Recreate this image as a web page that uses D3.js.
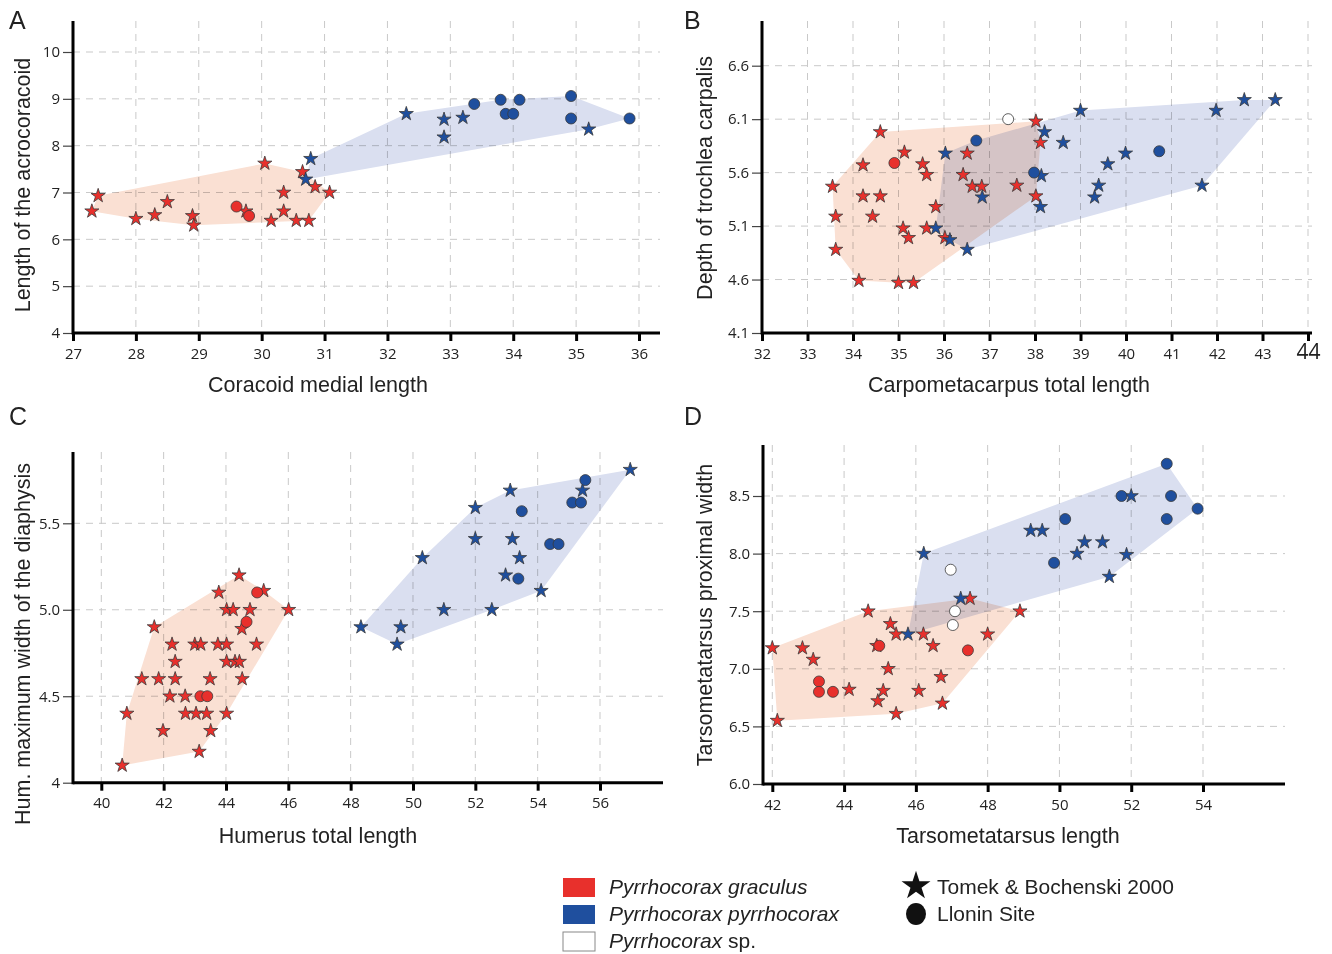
<!DOCTYPE html>
<html>
<head>
<meta charset="utf-8">
<script src="https://cdnjs.cloudflare.com/ajax/libs/d3/7.8.5/d3.min.js"></script>
<style>
  body { margin: 0; background: #fff; }
  svg { font-family: "Liberation Sans", Arial, sans-serif; }
  .tick text { font-family: "Open Sans", "Liberation Sans", sans-serif; fill: #222; }
  .hull { mix-blend-mode: multiply; }
</style>
</head>
<body>
<div id="chart"></div>
<script>
// ---- panel A : coracoid ----
var aXTicks = [27, 28, 29, 30, 31, 32, 33, 34, 35, 36];
var aYTicks = [4, 5, 6, 7, 8, 9, 10];
var aRedStars = [[27.3,6.6],[27.4,6.93],[28.0,6.44],[28.3,6.52],[28.5,6.8],[28.9,6.5],[28.92,6.3],
  [30.05,7.62],[29.75,6.6],[30.15,6.4],[30.35,7.0],[30.35,6.6],[30.55,6.4],[30.65,7.44],
  [30.75,6.4],[30.85,7.12],[31.08,7.0]];
var aRedDots = [[29.6,6.7],[29.8,6.5]];
var aBlueStars = [[30.78,7.72],[30.7,7.28],[32.3,8.68],[32.9,8.56],[32.9,8.18],[33.2,8.6],[35.2,8.35]];
var aBlueDots = [[33.38,8.89],[33.8,8.98],[34.1,8.98],[33.88,8.68],[34.0,8.68],[34.92,9.06],[34.92,8.58],[35.85,8.58]];

// ---- panel B : carpometacarpus ----
var bXTicks = [32, 33, 34, 35, 36, 37, 38, 39, 40, 41, 42, 43, 44];
var bYTicks = [4.1, 4.6, 5.1, 5.6, 6.1, 6.6];
var bRedStars = [[34.6,5.98],[35.13,5.79],[34.22,5.67],[35.53,5.68],[35.62,5.58],[33.55,5.47],[34.22,5.38],
  [34.6,5.38],[35.82,5.28],[33.62,5.19],[34.43,5.19],[35.1,5.08],[35.62,5.08],[35.22,4.99],[36.02,4.99],
  [33.62,4.88],[34.13,4.59],[35.0,4.57],[35.33,4.57],[36.51,5.78],[36.42,5.58],[36.62,5.47],[36.83,5.47],
  [38.02,6.08],[38.12,5.88],[37.6,5.48],[38.02,5.38]];
var bRedDots = [[34.91,5.69]];
var bBlueStars = [[36.03,5.78],[36.84,5.37],[35.82,5.08],[36.13,4.97],[36.51,4.88],[38.21,5.98],[39.0,6.18],
  [38.62,5.88],[38.14,5.57],[38.12,5.28],[39.99,5.78],[39.6,5.68],[39.4,5.48],[39.31,5.37],[41.67,5.48],
  [41.98,6.18],[42.6,6.28],[43.28,6.28]];
var bBlueDots = [[36.71,5.9],[37.98,5.6],[40.73,5.8]];
var bSpDots = [[37.41,6.1]];

// ---- panel C : humerus ----
var cXTicks = [40, 42, 44, 46, 48, 50, 52, 54, 56];
var cYTicks = [4, 4.5, 5.0, 5.5];
var cYLabels = ["4", "4.5", "5.0", "5.5"];
var cRedStars = [[40.67,4.1],[40.82,4.4],[41.7,4.9],[41.3,4.6],[41.84,4.6],[41.98,4.3],[42.2,4.5],[42.27,4.8],
  [42.37,4.7],[42.37,4.6],[42.69,4.5],[42.7,4.4],[43.04,4.4],[43.38,4.4],[43.0,4.8],[43.19,4.8],[43.14,4.18],
  [43.51,4.3],[43.49,4.6],[43.77,5.1],[43.74,4.8],[44.02,4.8],[44.02,5.0],[44.23,5.0],[44.02,4.7],[44.02,4.4],
  [44.29,4.7],[44.43,4.7],[44.42,5.2],[44.52,4.6],[44.51,4.89],[44.77,5.0],[44.98,4.8],[45.21,5.11],[46.01,5.0]];
var cRedDots = [[43.18,4.5],[43.4,4.5],[44.66,4.93],[45.0,5.1]];
var cBlueStars = [[48.33,4.9],[49.61,4.9],[49.49,4.8],[50.3,5.3],[50.99,5.0],[52.0,5.59],[52.0,5.41],[52.53,5.0],
  [53.12,5.69],[53.19,5.41],[53.42,5.3],[52.97,5.2],[54.11,5.11],[55.44,5.69],[56.97,5.81]];
var cBlueDots = [[53.49,5.57],[53.38,5.18],[54.4,5.38],[54.67,5.38],[55.11,5.62],[55.39,5.62],[55.53,5.75]];

// ---- panel D : tarsometatarsus ----
var dXTicks = [42, 44, 46, 48, 50, 52, 54];
var dYTicks = [6.0, 6.5, 7.0, 7.5, 8.0, 8.5];
var dRedStars = [[42.0,7.18],[42.14,6.55],[42.84,7.18],[43.14,7.08],[44.14,6.82],[44.67,7.5],[44.94,6.72],
  [44.91,7.2],[45.09,6.81],[45.23,7.0],[45.29,7.39],[45.45,7.3],[45.45,6.61],[46.08,6.81],[46.21,7.3],
  [46.48,7.2],[46.7,6.93],[46.74,6.7],[47.51,7.61],[48.0,7.3],[48.9,7.5]];
var dRedDots = [[44.98,7.2],[43.3,6.89],[43.3,6.8],[43.69,6.8],[47.45,7.16]];
var dBlueStars = [[46.22,8.0],[45.78,7.3],[47.25,7.61],[49.2,8.2],[49.52,8.2],[50.7,8.1],[50.49,8.0],
  [51.2,8.1],[51.87,7.99],[51.39,7.8],[52.0,8.5]];
var dBlueDots = [[50.16,8.3],[49.85,7.92],[51.73,8.5],[52.99,8.78],[53.11,8.5],[52.99,8.3],[53.85,8.39]];
var dSpDots = [[46.97,7.86],[47.09,7.5],[47.03,7.38]];

var legendSpecies = ["graculus", "pyrrhocorax", "sp."];
var legendSources = ["Tomek & Bochenski 2000", "Llonin Site"];

var RED = "#e8302c", BLUE = "#1f4f9e";

var svg = d3.select("#chart").append("svg")
  .attr("width", 1332)
  .attr("height", 954);

function drawPanel(p) {
  var g = svg.append("g");
  var x = d3.scaleLinear().domain(p.xd).range(p.xr);
  var y = d3.scaleLinear().domain(p.yd).range(p.yr);

  // grid
  g.selectAll("line.vg").data(p.xTicks).enter().append("line")
    .attr("x1", function(d){ return x(d); }).attr("x2", function(d){ return x(d); })
    .attr("y1", p.top).attr("y2", p.yr[0])
    .attr("stroke", "#c9c9c9").attr("stroke-dasharray", "7,6");
  g.selectAll("line.hg").data(p.yTicks.slice(1)).enter().append("line")
    .attr("x1", p.left).attr("x2", p.right)
    .attr("y1", function(d){ return y(d); }).attr("y2", function(d){ return y(d); })
    .attr("stroke", "#c9c9c9").attr("stroke-dasharray", "7,6");

  // hulls
  var hulls = [[p.blue, "#dadff0"], [p.red, "#fae0d3"]];
  hulls.forEach(function(h){
    var hull = d3.polygonHull(h[0]);
    g.append("path").attr("class", "hull")
      .attr("d", "M" + hull.map(function(d){ return x(d[0]) + "," + y(d[1]); }).join("L") + "Z")
      .attr("fill", h[1]);
  });

  // axes
  var xa = g.append("g").attr("transform", "translate(0," + p.yr[0] + ")")
    .call(d3.axisBottom(x).tickValues(p.xTicks).tickSize(8).tickPadding(7));
  var ya = g.append("g").attr("transform", "translate(" + p.left + ",0)")
    .call(d3.axisLeft(y).tickValues(p.yTicks).tickSize(10).tickPadding(3)
      .tickFormat(function(d, i){ return p.yLabels[i]; }));
  [xa, ya].forEach(function(a){
    a.select(".domain").remove();
    a.selectAll(".tick text").attr("font-size", 15);
  });
  xa.selectAll(".tick line").attr("stroke", "#000").attr("stroke-width", 3);
  ya.selectAll(".tick line").attr("stroke", "#444").attr("stroke-width", 1.2);
  if (p.bigLast) xa.selectAll(".tick:last-of-type text").attr("font-size", 21).attr("dy", "0.5em");
  g.append("line").attr("x1", p.left).attr("x2", p.right).attr("y1", p.yr[0]).attr("y2", p.yr[0])
    .attr("stroke", "#000").attr("stroke-width", 3);
  g.append("line").attr("x1", p.left).attr("x2", p.left).attr("y1", p.top).attr("y2", p.yr[0] + 1.5)
    .attr("stroke", "#000").attr("stroke-width", 3);

  // points
  var star = d3.symbol(d3.symbolStar).size(62);
  function stars(data, col) {
    g.selectAll(null).data(data).enter().append("path")
      .attr("d", star)
      .attr("transform", function(d){ return "translate(" + x(d[0]) + "," + y(d[1]) + ")"; })
      .attr("fill", col).attr("stroke", "#3a3a3a").attr("stroke-width", 0.8);
  }
  function dots(data, col) {
    g.selectAll(null).data(data).enter().append("circle")
      .attr("cx", function(d){ return x(d[0]); })
      .attr("cy", function(d){ return y(d[1]); })
      .attr("r", 5.5)
      .attr("fill", col).attr("stroke", "#3a3a3a").attr("stroke-width", 0.8);
  }
  stars(p.redStars, RED);
  dots(p.redDots, RED);
  stars(p.blueStars, BLUE);
  dots(p.blueDots, BLUE);
  if (p.spDots) dots(p.spDots, "#fff");

  // titles
  g.append("text").attr("x", p.xt[0]).attr("y", p.xt[1]).attr("text-anchor", "middle")
    .attr("font-size", 21.5).attr("fill", "#222").text(p.xTitle);
  g.append("text").attr("transform", "translate(" + p.yt[0] + "," + p.yt[1] + ") rotate(-90)")
    .attr("text-anchor", "middle").attr("font-size", 21.5).attr("fill", "#222").text(p.yTitle);
  g.append("text").attr("x", p.letter[0]).attr("y", p.letter[1])
    .attr("font-size", 25).attr("fill", "#222").text(p.name);
}

drawPanel({
  name: "A", letter: [9, 29],
  xd: [27, 36], xr: [73, 639], yd: [4, 10], yr: [333, 52], left: 73, right: 660, top: 21,
  xTicks: aXTicks, yTicks: aYTicks, yLabels: aYTicks.map(String),
  redStars: aRedStars, redDots: aRedDots, blueStars: aBlueStars, blueDots: aBlueDots,
  red: aRedStars.concat(aRedDots), blue: aBlueStars.concat(aBlueDots),
  xTitle: "Coracoid medial length", xt: [318, 392],
  yTitle: "Length of the acrocoracoid", yt: [30, 185]
});

drawPanel({
  name: "B", letter: [684, 29],
  xd: [32, 44], xr: [762, 1308], yd: [4.1, 6.6], yr: [333, 65.7], left: 762, right: 1312, top: 21,
  xTicks: bXTicks, yTicks: bYTicks, yLabels: bYTicks.map(function(d){ return d.toFixed(1); }), bigLast: true,
  redStars: bRedStars, redDots: bRedDots, blueStars: bBlueStars, blueDots: bBlueDots, spDots: bSpDots,
  red: bRedStars.concat(bRedDots), blue: bBlueStars.concat(bBlueDots),
  xTitle: "Carpometacarpus total length", xt: [1009, 392],
  yTitle: "Depth of trochlea carpalis", yt: [712, 178]
});

drawPanel({
  name: "C", letter: [9, 425],
  xd: [40, 56], xr: [101.3, 600], yd: [4, 5.5], yr: [782.7, 523.3], left: 73, right: 663, top: 452,
  xTicks: cXTicks, yTicks: cYTicks, yLabels: cYLabels,
  redStars: cRedStars, redDots: cRedDots, blueStars: cBlueStars, blueDots: cBlueDots,
  red: cRedStars.concat(cRedDots), blue: cBlueStars.concat(cBlueDots),
  xTitle: "Humerus total length", xt: [318, 843],
  yTitle: "Hum. maximum width of the diaphysis", yt: [30, 644]
});

drawPanel({
  name: "D", letter: [684, 425],
  xd: [42, 54], xr: [772.3, 1203], yd: [6, 8.5], yr: [784, 496], left: 763, right: 1285, top: 445,
  xTicks: dXTicks, yTicks: dYTicks, yLabels: dYTicks.map(function(d){ return d.toFixed(1); }),
  redStars: dRedStars, redDots: dRedDots, blueStars: dBlueStars, blueDots: dBlueDots, spDots: dSpDots,
  red: dRedStars.concat(dRedDots), blue: dBlueStars.concat(dBlueDots),
  xTitle: "Tarsometatarsus length", xt: [1008, 843],
  yTitle: "Tarsometatarsus proximal width", yt: [712, 615]
});

// legend
var lg = svg.append("g");
var sw = [RED, BLUE, "#fff"];
legendSpecies.forEach(function(s, i){
  var yy = 878 + i * 27;
  lg.append("rect").attr("x", 563).attr("y", yy).attr("width", 32).attr("height", 19)
    .attr("fill", sw[i]).attr("stroke", i === 2 ? "#888" : "none");
  var t = lg.append("text").attr("x", 609).attr("y", yy + 16).attr("font-size", 21).attr("fill", "#222");
  t.append("tspan").attr("font-style", "italic").text("Pyrrhocorax ");
  t.append("tspan").attr("font-style", s === "sp." ? "normal" : "italic").text(s);
});
lg.append("path").attr("d", d3.symbol(d3.symbolStar).size(260))
  .attr("transform", "translate(916,886)").attr("fill", "#111");
lg.append("ellipse").attr("cx", 916).attr("cy", 914).attr("rx", 10).attr("ry", 11).attr("fill", "#111");
legendSources.forEach(function(s, i){
  lg.append("text").attr("x", 937).attr("y", 894 + i * 27).attr("font-size", 21).attr("fill", "#222").text(s);
});
</script>
</body>
</html>
